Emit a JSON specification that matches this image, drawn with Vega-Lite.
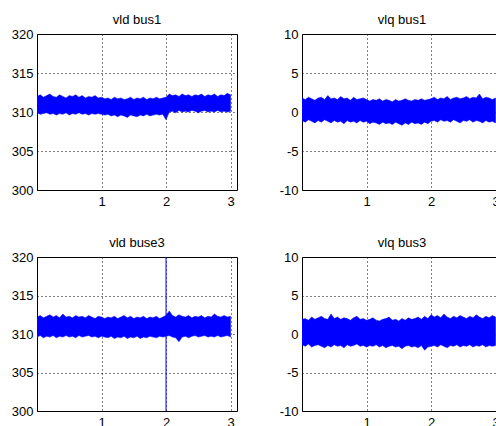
{
  "$schema": "https://vega.github.io/schema/vega-lite/v6.json",
  "background": "white",
  "padding": {"left": 0, "top": 13, "right": 0, "bottom": 0},
  "spacing": 25,
  "config": {
    "font": "Liberation Sans",
    "view": {"stroke": "#000000", "strokeWidth": 1},
    "axis": {"grid": true, "gridColor": "#000000", "gridDash": [1, 3], "gridOpacity": 1, "gridWidth": 1, "domain": false, "ticks": false, "labelFontSize": 13, "labelColor": "#000000", "labelFont": "Liberation Sans", "labelFlush": false, "labelOverlap": false, "labelExpr": "'' + datum.value"},
    "axisX": {"labelPadding": 5, "minExtent": 20, "maxExtent": 20},
    "axisY": {"labelPadding": 4, "minExtent": 36, "maxExtent": 36},
    "title": {"fontSize": 13, "fontWeight": "normal", "font": "Liberation Sans", "color": "#000000", "anchor": "middle", "offset": 1, "baseline": "alphabetic"}
  },
  "datasets": {
    "spike": [{"t": 2.0, "lo": 285, "hi": 335}],
    "sig": [
      {"t":0.00,"d1h":312.0,"d1l":309.9,"q1h":1.8,"q1l":-1.1,"d3h":312.2,"d3l":309.6,"q3h":1.9,"q3l":-1.4},
      {"t":0.05,"d1h":312.2,"d1l":309.7,"q1h":1.6,"q1l":-1.3,"d3h":312.4,"d3l":309.8,"q3h":2.0,"q3l":-1.6},
      {"t":0.10,"d1h":311.9,"d1l":309.8,"q1h":1.9,"q1l":-1.0,"d3h":312.1,"d3l":309.5,"q3h":1.8,"q3l":-1.3},
      {"t":0.15,"d1h":312.1,"d1l":309.9,"q1h":1.7,"q1l":-1.2,"d3h":312.3,"d3l":309.7,"q3h":2.2,"q3l":-1.7},
      {"t":0.20,"d1h":312.3,"d1l":309.7,"q1h":1.5,"q1l":-1.4,"d3h":312.5,"d3l":309.6,"q3h":1.9,"q3l":-1.5},
      {"t":0.25,"d1h":312.0,"d1l":309.8,"q1h":1.8,"q1l":-1.1,"d3h":312.2,"d3l":309.8,"q3h":2.1,"q3l":-1.4},
      {"t":0.30,"d1h":311.9,"d1l":309.6,"q1h":1.9,"q1l":-1.3,"d3h":312.4,"d3l":309.5,"q3h":2.3,"q3l":-1.6},
      {"t":0.35,"d1h":312.2,"d1l":309.8,"q1h":1.6,"q1l":-1.0,"d3h":312.1,"d3l":309.7,"q3h":2.0,"q3l":-1.8},
      {"t":0.40,"d1h":312.0,"d1l":309.7,"q1h":2.1,"q1l":-1.2,"d3h":312.6,"d3l":309.6,"q3h":1.9,"q3l":-1.5},
      {"t":0.45,"d1h":311.8,"d1l":309.9,"q1h":1.7,"q1l":-1.4,"d3h":312.2,"d3l":309.8,"q3h":2.6,"q3l":-1.7},
      {"t":0.50,"d1h":312.1,"d1l":309.6,"q1h":1.8,"q1l":-1.1,"d3h":312.3,"d3l":309.6,"q3h":2.0,"q3l":-1.4},
      {"t":0.55,"d1h":312.0,"d1l":309.8,"q1h":1.6,"q1l":-1.3,"d3h":312.1,"d3l":309.7,"q3h":2.2,"q3l":-1.6},
      {"t":0.60,"d1h":312.2,"d1l":309.7,"q1h":2.0,"q1l":-1.2,"d3h":312.4,"d3l":309.5,"q3h":1.9,"q3l":-1.5},
      {"t":0.65,"d1h":311.9,"d1l":309.9,"q1h":1.7,"q1l":-1.5,"d3h":312.2,"d3l":309.8,"q3h":2.1,"q3l":-1.8},
      {"t":0.70,"d1h":312.1,"d1l":309.7,"q1h":1.8,"q1l":-1.1,"d3h":312.3,"d3l":309.6,"q3h":2.0,"q3l":-1.4},
      {"t":0.75,"d1h":311.8,"d1l":309.8,"q1h":1.5,"q1l":-1.3,"d3h":312.1,"d3l":309.7,"q3h":1.8,"q3l":-1.6},
      {"t":0.80,"d1h":312.0,"d1l":309.6,"q1h":1.9,"q1l":-1.2,"d3h":312.4,"d3l":309.8,"q3h":2.1,"q3l":-1.5},
      {"t":0.85,"d1h":311.9,"d1l":309.8,"q1h":1.6,"q1l":-1.4,"d3h":312.2,"d3l":309.6,"q3h":2.3,"q3l":-1.3},
      {"t":0.90,"d1h":312.1,"d1l":309.7,"q1h":1.7,"q1l":-1.1,"d3h":312.0,"d3l":309.7,"q3h":1.9,"q3l":-1.6},
      {"t":0.95,"d1h":311.8,"d1l":309.8,"q1h":1.8,"q1l":-1.3,"d3h":312.3,"d3l":309.5,"q3h":2.0,"q3l":-1.5},
      {"t":1.00,"d1h":311.9,"d1l":309.7,"q1h":1.6,"q1l":-1.2,"d3h":312.2,"d3l":309.7,"q3h":1.8,"q3l":-1.7},
      {"t":1.05,"d1h":311.7,"d1l":309.6,"q1h":1.4,"q1l":-1.5,"d3h":312.0,"d3l":309.6,"q3h":1.9,"q3l":-1.5},
      {"t":1.10,"d1h":311.8,"d1l":309.7,"q1h":1.6,"q1l":-1.3,"d3h":312.2,"d3l":309.5,"q3h":2.1,"q3l":-1.6},
      {"t":1.15,"d1h":311.6,"d1l":309.5,"q1h":1.5,"q1l":-1.4,"d3h":312.1,"d3l":309.7,"q3h":1.8,"q3l":-1.4},
      {"t":1.20,"d1h":311.9,"d1l":309.6,"q1h":1.7,"q1l":-1.6,"d3h":312.3,"d3l":309.4,"q3h":1.7,"q3l":-1.7},
      {"t":1.25,"d1h":311.7,"d1l":309.4,"q1h":1.4,"q1l":-1.3,"d3h":312.0,"d3l":309.6,"q3h":1.9,"q3l":-1.5},
      {"t":1.30,"d1h":311.8,"d1l":309.6,"q1h":1.6,"q1l":-1.5,"d3h":312.2,"d3l":309.5,"q3h":2.0,"q3l":-1.8},
      {"t":1.35,"d1h":311.6,"d1l":309.5,"q1h":1.5,"q1l":-1.4,"d3h":312.4,"d3l":309.7,"q3h":2.2,"q3l":-1.6},
      {"t":1.40,"d1h":311.7,"d1l":309.3,"q1h":1.3,"q1l":-1.6,"d3h":312.1,"d3l":309.4,"q3h":1.8,"q3l":-1.5},
      {"t":1.45,"d1h":311.9,"d1l":309.6,"q1h":1.6,"q1l":-1.3,"d3h":312.3,"d3l":309.6,"q3h":1.9,"q3l":-1.7},
      {"t":1.50,"d1h":311.6,"d1l":309.5,"q1h":1.4,"q1l":-1.5,"d3h":312.0,"d3l":309.5,"q3h":1.7,"q3l":-1.6},
      {"t":1.55,"d1h":311.8,"d1l":309.4,"q1h":1.5,"q1l":-1.7,"d3h":312.2,"d3l":309.7,"q3h":2.0,"q3l":-1.9},
      {"t":1.60,"d1h":311.7,"d1l":309.6,"q1h":1.7,"q1l":-1.4,"d3h":312.1,"d3l":309.4,"q3h":1.8,"q3l":-1.6},
      {"t":1.65,"d1h":311.9,"d1l":309.5,"q1h":1.5,"q1l":-1.6,"d3h":312.3,"d3l":309.6,"q3h":2.1,"q3l":-1.5},
      {"t":1.70,"d1h":311.6,"d1l":309.7,"q1h":1.4,"q1l":-1.3,"d3h":312.0,"d3l":309.5,"q3h":1.9,"q3l":-1.7},
      {"t":1.75,"d1h":311.8,"d1l":309.5,"q1h":1.6,"q1l":-1.5,"d3h":312.2,"d3l":309.7,"q3h":2.0,"q3l":-1.6},
      {"t":1.80,"d1h":311.7,"d1l":309.6,"q1h":1.5,"q1l":-1.4,"d3h":312.1,"d3l":309.6,"q3h":2.2,"q3l":-1.8},
      {"t":1.85,"d1h":311.9,"d1l":309.7,"q1h":1.7,"q1l":-1.6,"d3h":312.3,"d3l":309.5,"q3h":1.9,"q3l":-1.5},
      {"t":1.90,"d1h":311.7,"d1l":309.6,"q1h":1.5,"q1l":-1.3,"d3h":312.0,"d3l":309.7,"q3h":2.3,"q3l":-2.1},
      {"t":1.95,"d1h":311.8,"d1l":309.7,"q1h":1.6,"q1l":-1.5,"d3h":312.2,"d3l":309.6,"q3h":2.0,"q3l":-1.7},
      {"t":2.00,"d1h":311.9,"d1l":309.0,"q1h":1.7,"q1l":-1.2,"d3h":312.4,"d3l":309.7,"q3h":2.5,"q3l":-1.6},
      {"t":2.05,"d1h":312.3,"d1l":310.0,"q1h":1.9,"q1l":-1.1,"d3h":313.0,"d3l":309.8,"q3h":2.2,"q3l":-1.5},
      {"t":2.10,"d1h":312.1,"d1l":310.1,"q1h":1.6,"q1l":-1.3,"d3h":312.4,"d3l":309.6,"q3h":2.4,"q3l":-1.7},
      {"t":2.15,"d1h":312.2,"d1l":309.9,"q1h":1.8,"q1l":-1.0,"d3h":312.2,"d3l":309.5,"q3h":2.1,"q3l":-1.4},
      {"t":2.20,"d1h":312.0,"d1l":310.2,"q1h":1.7,"q1l":-1.2,"d3h":312.5,"d3l":309.0,"q3h":2.6,"q3l":-1.6},
      {"t":2.25,"d1h":312.3,"d1l":310.0,"q1h":2.0,"q1l":-1.1,"d3h":312.3,"d3l":309.6,"q3h":2.2,"q3l":-1.8},
      {"t":2.30,"d1h":312.1,"d1l":310.1,"q1h":1.6,"q1l":-1.3,"d3h":312.2,"d3l":309.7,"q3h":2.0,"q3l":-1.5},
      {"t":2.35,"d1h":312.2,"d1l":310.0,"q1h":1.8,"q1l":-1.0,"d3h":312.4,"d3l":309.5,"q3h":2.3,"q3l":-1.6},
      {"t":2.40,"d1h":312.0,"d1l":310.2,"q1h":1.9,"q1l":-1.2,"d3h":312.1,"d3l":309.7,"q3h":2.1,"q3l":-1.4},
      {"t":2.45,"d1h":312.2,"d1l":310.1,"q1h":1.7,"q1l":-1.4,"d3h":312.3,"d3l":309.8,"q3h":2.4,"q3l":-1.7},
      {"t":2.50,"d1h":312.1,"d1l":309.9,"q1h":1.8,"q1l":-1.1,"d3h":312.2,"d3l":309.6,"q3h":2.2,"q3l":-1.5},
      {"t":2.55,"d1h":312.3,"d1l":310.1,"q1h":2.0,"q1l":-1.2,"d3h":312.4,"d3l":309.7,"q3h":2.0,"q3l":-1.6},
      {"t":2.60,"d1h":312.0,"d1l":310.2,"q1h":1.7,"q1l":-1.0,"d3h":312.1,"d3l":309.8,"q3h":2.3,"q3l":-1.4},
      {"t":2.65,"d1h":312.2,"d1l":310.0,"q1h":1.9,"q1l":-1.3,"d3h":312.3,"d3l":309.6,"q3h":2.1,"q3l":-1.7},
      {"t":2.70,"d1h":312.1,"d1l":310.1,"q1h":1.8,"q1l":-1.1,"d3h":312.2,"d3l":309.7,"q3h":2.5,"q3l":-1.5},
      {"t":2.75,"d1h":312.3,"d1l":310.0,"q1h":2.3,"q1l":-1.2,"d3h":312.6,"d3l":309.6,"q3h":2.2,"q3l":-1.6},
      {"t":2.80,"d1h":312.0,"d1l":310.2,"q1h":1.7,"q1l":-1.4,"d3h":312.3,"d3l":309.8,"q3h":2.0,"q3l":-1.4},
      {"t":2.85,"d1h":312.2,"d1l":310.0,"q1h":1.9,"q1l":-1.1,"d3h":312.2,"d3l":309.6,"q3h":2.3,"q3l":-1.7},
      {"t":2.90,"d1h":312.1,"d1l":310.1,"q1h":1.8,"q1l":-1.3,"d3h":312.4,"d3l":309.7,"q3h":2.1,"q3l":-1.5},
      {"t":2.95,"d1h":312.4,"d1l":310.0,"q1h":1.6,"q1l":-1.2,"d3h":312.2,"d3l":309.8,"q3h":2.4,"q3l":-1.6},
      {"t":3.00,"d1h":312.2,"d1l":310.1,"q1h":1.8,"q1l":-1.4,"d3h":312.3,"d3l":309.6,"q3h":2.2,"q3l":-1.5}
    ]
  },
  "vconcat": [
    {
      "spacing": 27,
      "hconcat": [
        {
          "title": "vld bus1", "width": 200, "height": 156,
          "data": {"name": "sig"},
          "mark": {"type": "area", "color": "#0000ff", "stroke": "#0000ff", "strokeWidth": 0.5, "clip": true},
          "encoding": {
            "x": {"field": "t", "type": "quantitative", "scale": {"domain": [0, 3.1], "nice": false, "zero": false}, "axis": {"values": [1, 2, 3], "title": null}},
            "y": {"field": "d1l", "type": "quantitative", "scale": {"domain": [300, 320], "nice": false, "zero": false}, "axis": {"values": [300, 305, 310, 315, 320], "title": null}},
            "y2": {"field": "d1h"}
          }
        },
        {
          "title": "vlq bus1", "width": 200, "height": 156,
          "data": {"name": "sig"},
          "mark": {"type": "area", "color": "#0000ff", "stroke": "#0000ff", "strokeWidth": 0.5, "clip": true},
          "encoding": {
            "x": {"field": "t", "type": "quantitative", "scale": {"domain": [0, 3.1], "nice": false, "zero": false}, "axis": {"values": [1, 2, 3], "title": null}},
            "y": {"field": "q1l", "type": "quantitative", "scale": {"domain": [-10, 10], "nice": false, "zero": false}, "axis": {"values": [-10, -5, 0, 5, 10], "title": null}},
            "y2": {"field": "q1h"}
          }
        }
      ]
    },
    {
      "spacing": 27,
      "hconcat": [
        {
          "title": "vld buse3", "width": 200, "height": 154,
          "layer": [
            {
              "data": {"name": "sig"},
              "mark": {"type": "area", "color": "#0000ff", "stroke": "#0000ff", "strokeWidth": 0.5, "clip": true},
              "encoding": {
                "x": {"field": "t", "type": "quantitative", "scale": {"domain": [0, 3.1], "nice": false, "zero": false}, "axis": {"values": [1, 2, 3], "title": null}},
                "y": {"field": "d3l", "type": "quantitative", "scale": {"domain": [300, 320], "nice": false, "zero": false}, "axis": {"values": [300, 305, 310, 315, 320], "title": null}},
                "y2": {"field": "d3h"}
              }
            },
            {
              "data": {"name": "spike"},
              "mark": {"type": "rule", "color": "#0000ff", "strokeWidth": 1, "clip": true},
              "encoding": {
                "x": {"field": "t", "type": "quantitative", "axis": {"values": [1, 2, 3], "title": null}},
                "y": {"field": "lo", "type": "quantitative", "axis": {"values": [300, 305, 310, 315, 320], "title": null}},
                "y2": {"field": "hi"}
              }
            }
          ]
        },
        {
          "title": "vlq bus3", "width": 200, "height": 154,
          "data": {"name": "sig"},
          "mark": {"type": "area", "color": "#0000ff", "stroke": "#0000ff", "strokeWidth": 0.5, "clip": true},
          "encoding": {
            "x": {"field": "t", "type": "quantitative", "scale": {"domain": [0, 3.1], "nice": false, "zero": false}, "axis": {"values": [1, 2, 3], "title": null}},
            "y": {"field": "q3l", "type": "quantitative", "scale": {"domain": [-10, 10], "nice": false, "zero": false}, "axis": {"values": [-10, -5, 0, 5, 10], "title": null}},
            "y2": {"field": "q3h"}
          }
        }
      ]
    }
  ]
}
